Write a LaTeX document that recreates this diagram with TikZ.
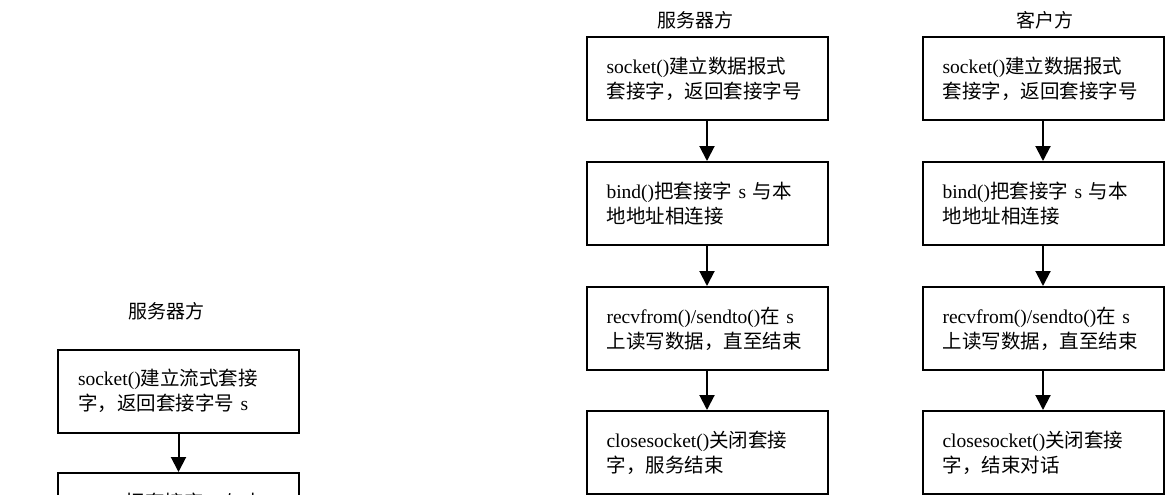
\documentclass[tikz,border=0pt]{standalone}
\usepackage{fontspec}
\setmainfont{Liberation Serif}
\newfontfamily\cjkfont{Noto Sans CJK SC}
\newcommand\zh[1]{{\cjkfont #1}}
\usetikzlibrary{arrows.meta}
\begin{document}
\begin{tikzpicture}[x=1pt,y=-1pt,
  box/.style={draw, line width=2pt, rectangle, minimum width=241pt, minimum height=83pt,
    text width=201pt, inner xsep=20pt, align=left, font=\fontsize{19.5}{25}\selectfont},
  ttl/.style={font=\fontsize{19}{23}\selectfont},
  arr/.style={line width=2pt, -{Triangle[width=15pt,length=15pt]}}]
\useasboundingbox (0,0) rectangle (1165,495);
\clip (0,0) rectangle (1165,495);
% left column
\node[ttl] (lt) at (166,311) {\zh{服务器方}};
\node[box] (l1) at (178.5,391) {socket()\zh{建立流式套接}\\\zh{字，返回套接字号} s};
\node[box] (l2) at (178.5,514.5) {bind()\zh{把套接字} s \zh{与本}\\\zh{地地址相连接}};
\draw[arr] (l1) -- (l2);
% middle column
\node[ttl] (mt) at (695,20) {\zh{服务器方}};
\node[box] (m1) at (707,78.5) {socket()\zh{建立数据报式}\\\zh{套接字，返回套接字号}};
\node[box] (m2) at (707,203.5) {bind()\zh{把套接字} s \zh{与本}\\\zh{地地址相连接}};
\node[box] (m3) at (707,328.5) {recvfrom()/sendto()\zh{在} s\\\zh{上读写数据，直至结束}};
\node[box] (m4) at (707,452.5) {closesocket()\zh{关闭套接}\\\zh{字，服务结束}};
\draw[arr] (m1) -- (m2);
\draw[arr] (m2) -- (m3);
\draw[arr] (m3) -- (m4);
% right column
\node[ttl] (rt) at (1045,20) {\zh{客户方}};
\node[box] (r1) at (1043,78.5) {socket()\zh{建立数据报式}\\\zh{套接字，返回套接字号}};
\node[box] (r2) at (1043,203.5) {bind()\zh{把套接字} s \zh{与本}\\\zh{地地址相连接}};
\node[box] (r3) at (1043,328.5) {recvfrom()/sendto()\zh{在} s\\\zh{上读写数据，直至结束}};
\node[box] (r4) at (1043,452.5) {closesocket()\zh{关闭套接}\\\zh{字，结束对话}};
\draw[arr] (r1) -- (r2);
\draw[arr] (r2) -- (r3);
\draw[arr] (r3) -- (r4);
\end{tikzpicture}
\end{document}
